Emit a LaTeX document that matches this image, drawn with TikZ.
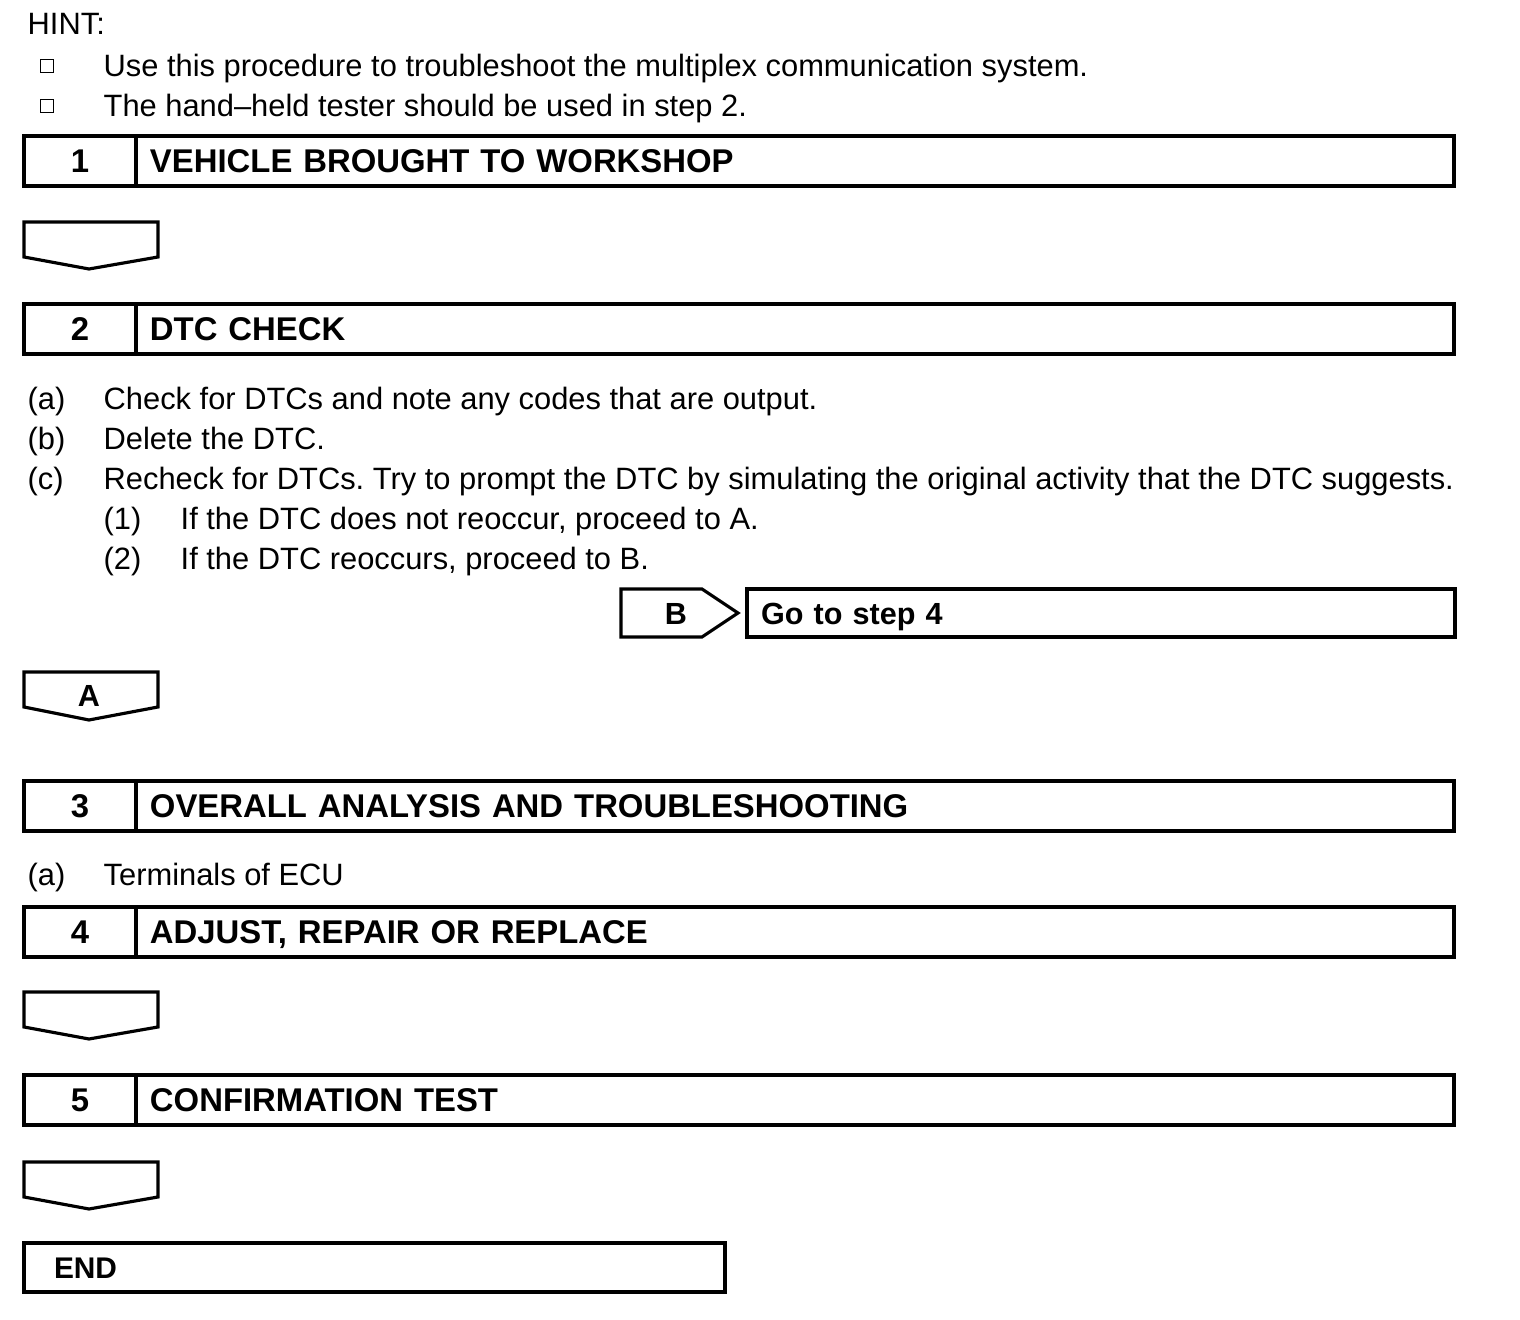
\documentclass[tikz,border=0pt]{standalone}
\usepackage{fontspec}
\setmainfont{Liberation Sans}
\usetikzlibrary{arrows.meta,positioning}
\frenchspacing

\tikzset{
  txt/.style={anchor=base west,inner sep=0pt,font=\fontsize{8.78pt}{10.4pt}\selectfont},
  sqbullet/.style={draw,line width=0.4pt,minimum size=0.13cm,inner sep=0pt},
  numbox/.style={draw,line width=0.9pt,outer sep=0pt,minimum width=1.12cm,minimum height=0.5cm,
    inner sep=0pt,text height=0.235cm,text depth=0pt,font=\fontsize{9.35pt}{11pt}\selectfont\bfseries},
  titlebox/.style={draw,line width=0.9pt,outer sep=0pt,anchor=west,minimum height=0.5cm,
    inner xsep=0.14cm,inner ysep=0pt,text width=12.9cm,align=left,
    text height=0.235cm,text depth=0pt,font=\fontsize{9.35pt}{11pt}\selectfont\bfseries},
  flowbox/.style={draw,line width=0.9pt,line join=miter},
  keytxt/.style={inner sep=0pt,font=\fontsize{8.7pt}{10pt}\selectfont\bfseries}
}

\begin{document}
\begin{tikzpicture}[>=Latex]
\useasboundingbox (0,0) rectangle (15.2,-13.2);
% hint
\node[txt] (hint) at (0.27,-0.35) {HINT:};
\node[sqbullet] (sq1) at (0.47,-0.66) {};
\node[txt] (hint1) at (1.03,-0.77) {Use this procedure to troubleshoot the multiplex communication system.};
\node[sqbullet] (sq2) at (0.47,-1.06) {};
\node[txt] (hint2) at (1.03,-1.17) {The hand--held tester should be used in step 2.};
% step 1
\node[numbox] (n1) at (0.80,-1.61) {1};
\node[titlebox,right=0pt of n1] (t1) {VEHICLE BROUGHT TO WORKSHOP};
\draw[flowbox] (0.24,-2.22) -- (1.58,-2.22) -- (1.58,-2.57) -- (0.89,-2.69) -- (0.24,-2.57) -- cycle;
% step 2
\node[numbox] (n2) at (0.80,-3.29) {2};
\node[titlebox,right=0pt of n2] (t2) {DTC CHECK};
\node[txt] (a2) at (0.27,-4.10) {(a)};
\node[txt] (a2t) at (1.03,-4.10) {Check for DTCs and note any codes that are output.};
\node[txt] (b2) at (0.27,-4.50) {(b)};
\node[txt] (b2t) at (1.03,-4.50) {Delete the DTC.};
\node[txt] (c2) at (0.27,-4.90) {(c)};
\node[txt] (c2t) at (1.03,-4.90) {Recheck for DTCs. Try to prompt the DTC by simulating the original activity that the DTC suggests.};
\node[txt] (c21) at (1.03,-5.30) {(1)};
\node[txt] (c21t) at (1.80,-5.30) {If the DTC does not reoccur, proceed to A.};
\node[txt] (c22) at (1.03,-5.70) {(2)};
\node[txt] (c22t) at (1.80,-5.70) {If the DTC reoccurs, proceed to B.};
% result B
\draw[flowbox] (6.21,-5.89) -- (7.02,-5.89) -- (7.38,-6.13) -- (7.02,-6.37) -- (6.21,-6.37) -- cycle;
\node[keytxt] (bkey) at (6.76,-6.14) {B};
\node[flowbox,outer sep=0pt,anchor=north west,minimum height=0.48cm,inner xsep=0.14cm,inner ysep=0pt,
  text width=6.8cm,align=left,text height=0.225cm,text depth=0pt,font=\fontsize{8.7pt}{10pt}\selectfont\bfseries]
  (go4) at (7.47,-5.89) {Go to step 4};
% result A
\draw[flowbox] (0.24,-6.72) -- (1.58,-6.72) -- (1.58,-7.07) -- (0.89,-7.20) -- (0.24,-7.07) -- cycle;
\node[keytxt] (akey) at (0.89,-6.96) {A};
% step 3
\node[numbox] (n3) at (0.80,-8.06) {3};
\node[titlebox,right=0pt of n3] (t3) {OVERALL ANALYSIS AND TROUBLESHOOTING};
\node[txt] (a3) at (0.27,-8.86) {(a)};
\node[txt] (a3t) at (1.03,-8.86) {Terminals of ECU};
% step 4
\node[numbox] (n4) at (0.80,-9.32) {4};
\node[titlebox,right=0pt of n4] (t4) {ADJUST, REPAIR OR REPLACE};
\draw[flowbox] (0.24,-9.92) -- (1.58,-9.92) -- (1.58,-10.27) -- (0.89,-10.39) -- (0.24,-10.27) -- cycle;
% step 5
\node[numbox] (n5) at (0.80,-11.00) {5};
\node[titlebox,right=0pt of n5] (t5) {CONFIRMATION TEST};
\draw[flowbox] (0.24,-11.62) -- (1.58,-11.62) -- (1.58,-11.97) -- (0.89,-12.09) -- (0.24,-11.97) -- cycle;
% end
\node[flowbox,outer sep=0pt,anchor=north west,minimum height=0.49cm,inner xsep=0.30cm,inner ysep=0pt,
  text width=6.41cm,align=left,text height=0.215cm,text depth=0pt,font=\fontsize{8.5pt}{10pt}\selectfont\bfseries]
  (endbox) at (0.24,-12.43) {END};
\end{tikzpicture}
\end{document}
